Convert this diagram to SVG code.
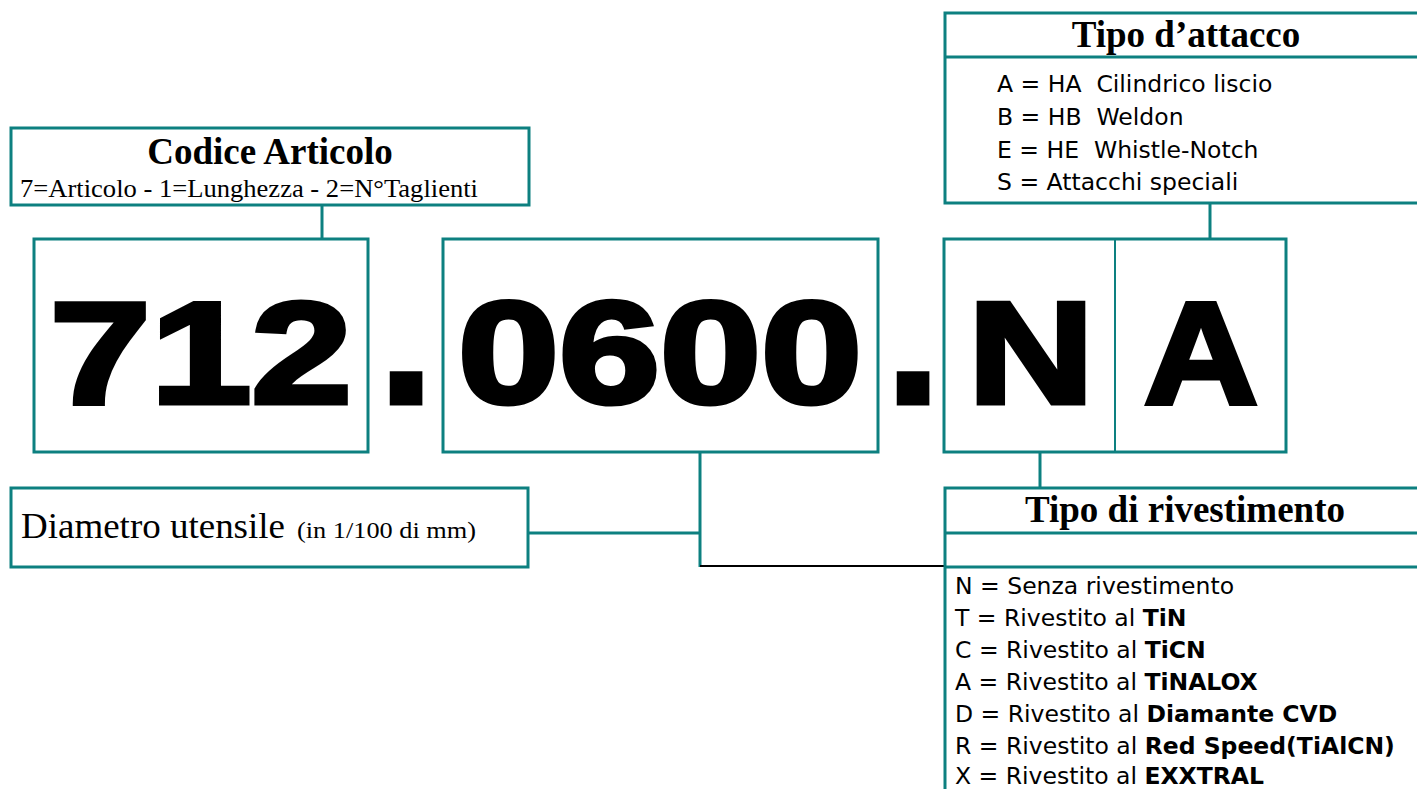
<svg xmlns="http://www.w3.org/2000/svg" width="1417" height="789" viewBox="0 0 1417 789">
<style>
.box{fill:#fff;stroke:#0d8080;stroke-width:3}
.div{stroke:#0d8080;stroke-width:3;fill:none}
.thin{stroke:#0d8080;stroke-width:2;fill:none}
.con{stroke:#0d8080;stroke-width:3;fill:none}
.blk{stroke:#000;stroke-width:2;fill:none}
.serif{font-family:"Liberation Serif","Times New Roman",serif;fill:#000}
.title{font-family:"Liberation Serif","Times New Roman",serif;font-weight:bold;font-size:37px;fill:#000}
.big{font-family:"Liberation Sans",Arial,sans-serif;font-weight:bold;font-size:144px;fill:#000;stroke:#000;stroke-width:5;stroke-linejoin:miter}
.dot{font-family:"Liberation Sans",Arial,sans-serif;font-weight:bold;font-size:210px;fill:#000;stroke:#000;stroke-width:3}
.item{font-family:"DejaVu Sans",Tahoma,Verdana,sans-serif;font-size:23.5px;fill:#000}
.b{font-weight:bold}
</style>
<g id="connectors">
<line class="con" x1="322" y1="205" x2="322" y2="238"/>
<line class="con" x1="1210" y1="203" x2="1210" y2="238"/>
<line class="con" x1="1040" y1="452" x2="1040" y2="488"/>
<polyline class="con" points="528,533 700,533"/>
<line class="con" x1="700" y1="452" x2="700" y2="567"/>
<line class="blk" x1="700" y1="566" x2="945" y2="566"/>
</g>
<g id="codice-articolo">
<rect class="box" x="11" y="128" width="518" height="77"/>
<text class="title" x="270" y="164" text-anchor="middle">Codice Articolo</text>
<text class="serif" x="20" y="197" font-size="26" textLength="458" lengthAdjust="spacingAndGlyphs">7=Articolo - 1=Lunghezza - 2=N°Taglienti</text>
</g>
<g id="tipo-attacco">
<rect class="box" x="945" y="13" width="600" height="190"/>
<line class="div" x1="945" y1="57" x2="1420" y2="57"/>
<text class="title" x="1186" y="47" text-anchor="middle">Tipo d’attacco</text>
<text class="item" x="997" y="92" xml:space="preserve">A = HA  Cilindrico liscio</text>
<text class="item" x="997" y="125" xml:space="preserve">B = HB  Weldon</text>
<text class="item" x="997" y="158" xml:space="preserve">E = HE  Whistle-Notch</text>
<text class="item" x="997" y="190" xml:space="preserve">S = Attacchi speciali</text>
</g>
<g id="code-712">
<rect class="box" x="34" y="239" width="334" height="213"/>
<text class="big" x="50" y="402.5" textLength="302" lengthAdjust="spacingAndGlyphs">712</text>
</g>
<text id="dot-1" class="dot" x="377" y="404">.</text>
<g id="code-0600">
<rect class="box" x="443" y="239" width="435" height="213"/>
<text class="big" x="458" y="402.5" textLength="404" lengthAdjust="spacingAndGlyphs">0600</text>
</g>
<text id="dot-2" class="dot" x="884" y="404">.</text>
<g id="code-NA">
<rect class="box" x="944" y="239" width="342" height="213"/>
<line class="thin" x1="1115" y1="239" x2="1115" y2="452"/>
<text class="big" x="968" y="402.5" textLength="126" lengthAdjust="spacingAndGlyphs">N</text>
<text class="big" x="1144" y="402.5" textLength="114" lengthAdjust="spacingAndGlyphs">A</text>
</g>
<g id="diametro">
<rect class="box" x="11" y="488" width="517" height="79"/>
<text class="serif" x="21" y="538" font-size="35" textLength="264" lengthAdjust="spacingAndGlyphs">Diametro utensile</text>
<text class="serif" x="297" y="538" font-size="24" textLength="179" lengthAdjust="spacingAndGlyphs">(in 1/100 di mm)</text>
</g>
<g id="tipo-rivestimento">
<rect class="box" x="945" y="488" width="600" height="400"/>
<line class="div" x1="945" y1="533" x2="1420" y2="533"/>
<line class="div" x1="945" y1="567" x2="1420" y2="567"/>
<text class="title" x="1185" y="522" text-anchor="middle" textLength="320" lengthAdjust="spacingAndGlyphs">Tipo di rivestimento</text>
<text class="item" x="955" y="594">N = Senza rivestimento</text>
<text class="item" x="955" y="626">T = Rivestito al <tspan class="b">TiN</tspan></text>
<text class="item" x="955" y="658">C = Rivestito al <tspan class="b">TiCN</tspan></text>
<text class="item" x="955" y="690">A = Rivestito al <tspan class="b">TiNALOX</tspan></text>
<text class="item" x="955" y="722">D = Rivestito al <tspan class="b">Diamante CVD</tspan></text>
<text class="item" x="955" y="754">R = Rivestito al <tspan class="b">Red Speed(TiAlCN)</tspan></text>
<text class="item" x="955" y="784">X = Rivestito al <tspan class="b">EXXTRAL</tspan></text>
</g>
</svg>
